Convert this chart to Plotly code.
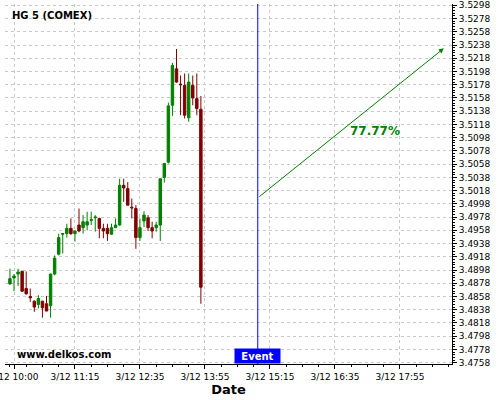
import plotly.graph_objects as go
import pandas as pd

times = ["09:55", "10:00", "10:05", "10:10", "10:15", "10:20", "10:25", "10:30", "10:35", "10:40",
         "10:45", "10:50", "10:55", "11:00", "11:05", "11:10", "11:15", "11:20", "11:25", "11:30",
         "11:35", "11:40", "11:45", "11:50", "11:55", "12:00", "12:05", "12:10", "12:15", "12:20",
         "12:25", "12:30", "12:35", "12:40", "12:45", "12:50", "12:55", "13:00", "13:05", "13:10",
         "13:15", "13:20", "13:25", "13:30", "13:35", "13:40", "13:45", "13:50"]
opens = [3.4877, 3.4886, 3.4892, 3.4896, 3.4870, 3.4858, 3.4851, 3.4846, 3.4851, 3.4847,
         3.4844, 3.4892, 3.4922, 3.4952, 3.4953, 3.4961, 3.4953, 3.4966, 3.4962, 3.4966,
         3.4973, 3.4977, 3.4976, 3.4961, 3.4961, 3.4952, 3.4962, 3.4966, 3.5026, 3.5021,
         3.4993, 3.4991, 3.4947, 3.4972, 3.4977, 3.4962, 3.4962, 3.4966, 3.5038, 3.5061,
         3.5147, 3.5202, 3.5179, 3.5177, 3.5128, 3.5177, 3.5157, 3.5141]
highs = [3.4900, 3.4892, 3.4900, 3.4897, 3.4896, 3.4870, 3.4852, 3.4860, 3.4851, 3.4859,
         3.4892, 3.4920, 3.4953, 3.4953, 3.4968, 3.4976, 3.4958, 3.4991, 3.4981, 3.4986,
         3.4986, 3.4981, 3.4977, 3.4968, 3.4968, 3.4968, 3.4976, 3.5036, 3.5036, 3.5031,
         3.5006, 3.4996, 3.4976, 3.4987, 3.4981, 3.4971, 3.4971, 3.5036, 3.5059, 3.5151,
         3.5211, 3.5232, 3.5192, 3.5195, 3.5195, 3.5192, 3.5195, 3.5161]
lows = [3.4876, 3.4866, 3.4874, 3.4865, 3.4861, 3.4850, 3.4835, 3.4840, 3.4826, 3.4836,
        3.4826, 3.4890, 3.4920, 3.4923, 3.4947, 3.4951, 3.4941, 3.4955, 3.4953, 3.4958,
        3.4966, 3.4956, 3.4946, 3.4946, 3.4942, 3.4952, 3.4962, 3.4965, 3.5001, 3.4996,
        3.4976, 3.4930, 3.4942, 3.4963, 3.4957, 3.4946, 3.4956, 3.4942, 3.5030, 3.5059,
        3.5131, 3.5181, 3.5132, 3.5127, 3.5122, 3.5147, 3.5132, 3.4847]
closes = [3.4885, 3.4889, 3.4895, 3.4866, 3.4862, 3.4856, 3.4842, 3.4855, 3.4841, 3.4836,
          3.4892, 3.4916, 3.4947, 3.4953, 3.4961, 3.4953, 3.4957, 3.4957, 3.4971, 3.4971,
          3.4974, 3.4978, 3.4961, 3.4957, 3.4953, 3.4962, 3.4966, 3.5026, 3.5022, 3.4996,
          3.4992, 3.4947, 3.4962, 3.4981, 3.4962, 3.4957, 3.4966, 3.5036, 3.5059, 3.5146,
          3.5207, 3.5182, 3.5178, 3.5132, 3.5182, 3.5158, 3.5142, 3.4872]

tick_times = ["10:00", "11:15", "12:35", "13:55", "15:15", "16:35", "17:55"]
tick_labels = ["3/12 10:00", "3/12 11:15", "3/12 12:35", "3/12 13:55", "3/12 15:15", "3/12 16:35", "3/12 17:55"]
y_ticks = [3.4758, 3.4778, 3.4798, 3.4818, 3.4838, 3.4858, 3.4878, 3.4898, 3.4918, 3.4938,
           3.4958, 3.4978, 3.4998, 3.5018, 3.5038, 3.5058, 3.5078, 3.5098, 3.5118, 3.5138,
           3.5158, 3.5178, 3.5198, 3.5218, 3.5238, 3.5258, 3.5278, 3.5298]

day = "2025-03-12 "
event_time = "15:00"
arrow_start = ("15:00", 3.5007)
arrow_end = ("18:49", 3.5233)
pct_text = "77.77%"
pct_pos = ("17:24", 3.5108)

x = pd.to_datetime([day + t for t in times])

fig = go.Figure()
fig.add_trace(go.Candlestick(
    x=x, open=opens, high=highs, low=lows, close=closes,
    increasing=dict(line=dict(color="#008000", width=1), fillcolor="#008000"),
    decreasing=dict(line=dict(color="#800000", width=1), fillcolor="#800000"),
    whiskerwidth=0, showlegend=False, hoverinfo="skip",
))

grid = dict(showgrid=True, gridcolor="#c8c8c8", gridwidth=1, griddash="3px,3px")
font = dict(family="DejaVu Sans", size=9, color="#000")

fig.update_layout(
    width=500, height=400,
    margin=dict(l=5, r=48, t=3.5, b=36),
    paper_bgcolor="white", plot_bgcolor="white",
    boxgap=0.4, boxgroupgap=0,
    font=font,
    showlegend=False,
    xaxis=dict(
        type="date", rangeslider=dict(visible=False), automargin=False,
        range=[day + "09:48:55", day + "18:59:05"],
        tickmode="array", tickvals=[day + t for t in tick_times], ticktext=tick_labels,
        ticks="outside", ticklen=4, tickcolor="#000", tickfont=font, ticklabeloverflow="allow",
        showline=True, linecolor="#000", linewidth=1, zeroline=False,
        minor=dict(ticks="outside", ticklen=2, tickcolor="#000",
                   dtick=20 * 60 * 1000, tick0=day + "11:15", showgrid=False),
        title=dict(text="Date", font=dict(family="DejaVu Sans", size=13, color="#000", weight="bold"),
                   standoff=2),
        **grid,
    ),
    yaxis=dict(
        side="right", range=[3.4756, 3.5300], automargin=False,
        tickmode="array", tickvals=y_ticks, ticktext=[f"{v:.4f}" for v in y_ticks],
        ticks="outside", ticklen=4, tickcolor="#000", tickfont=font, ticklabeloverflow="allow",
        showline=True, linecolor="#000", linewidth=1, zeroline=False,
        minor=dict(ticks="outside", ticklen=2, tickcolor="#000", dtick=0.0004, tick0=3.4758, showgrid=False),
        **grid,
    ),
)

fig.add_shape(type="line", xref="x", yref="paper", x0=day + event_time, x1=day + event_time,
              y0=0, y1=1, line=dict(color="#0000ff", width=1))

fig.add_annotation(x=day + arrow_end[0], y=arrow_end[1], ax=day + arrow_start[0], ay=arrow_start[1],
                   xref="x", yref="y", axref="x", ayref="y", text="", showarrow=True,
                   arrowhead=2, arrowsize=1, arrowwidth=1, arrowcolor="#008000")

fig.add_annotation(x=day + pct_pos[0], y=pct_pos[1], xref="x", yref="y", text="<b>" + pct_text + "</b>",
                   showarrow=False, font=dict(family="DejaVu Sans", size=12, color="#008000"))

fig.add_annotation(x=0.011, y=0.968, xref="paper", yref="paper", xanchor="left", yanchor="middle",
                   text="<b>HG 5 (COMEX)</b>", showarrow=False,
                   font=dict(family="DejaVu Sans", size=10, color="#000"))

fig.add_annotation(x=0.0224, y=0.0277, xref="paper", yref="paper", xanchor="left", yanchor="middle",
                   text="<b>www.delkos.com</b>", showarrow=False,
                   font=dict(family="DejaVu Sans", size=10, color="#000"))

fig.add_annotation(x=day + event_time, y=0, xref="x", yref="paper", xanchor="center", yanchor="bottom",
                   text="<b>Event</b>", showarrow=False, bgcolor="#0000ff", borderpad=1,
                   width=43, height=12,
                   font=dict(family="DejaVu Sans", size=10, color="#fff"))

fig.write_html("out.html", config={"displayModeBar": False},
               post_script="document.body.style.margin='0';")
